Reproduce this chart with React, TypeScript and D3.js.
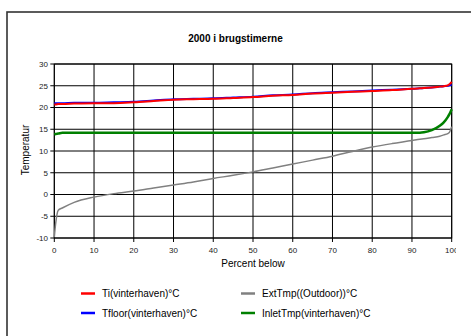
import React from "react";
import * as d3 from "d3";

const percent = [0, 0.3, 1, 2, 5, 10, 15, 20, 25, 30, 35, 40, 45, 50, 55, 60, 65, 70, 75, 80, 85, 90, 92, 93, 95, 97, 98, 99, 99.5, 100];
const tiValues = [20.7, 20.7, 20.8, 20.8, 20.9, 21.0, 21.0, 21.2, 21.5, 21.8, 21.9, 22.0, 22.2, 22.4, 22.7, 22.9, 23.2, 23.4, 23.6, 23.8, 24.0, 24.3, 24.4, 24.5, 24.6, 24.8, 24.9, 25.1, 25.4, 25.9];
const tfloorValues = [21.0, 21.0, 21.0, 21.0, 21.1, 21.1, 21.2, 21.3, 21.6, 21.9, 22.0, 22.1, 22.3, 22.5, 22.8, 23.0, 23.3, 23.5, 23.7, 23.9, 24.1, 24.3, 24.4, 24.5, 24.6, 24.8, 24.9, 25.0, 25.1, 25.2];
const extValues = [-9.8, -7.0, -3.6, -3.1, -1.8, -0.6, 0.2, 0.8, 1.5, 2.2, 2.9, 3.7, 4.4, 5.2, 6.1, 7.0, 7.9, 8.8, 9.9, 10.9, 11.7, 12.4, 12.7, 12.8, 13.1, 13.4, 13.7, 14.0, 14.4, 15.6];
const inletValues = [13.8, 13.9, 14.0, 14.2, 14.2, 14.2, 14.2, 14.2, 14.2, 14.2, 14.2, 14.2, 14.2, 14.2, 14.2, 14.2, 14.2, 14.2, 14.2, 14.2, 14.2, 14.2, 14.2, 14.3, 14.8, 15.8, 16.6, 17.8, 18.6, 19.6];

const xTicks = [0, 10, 20, 30, 40, 50, 60, 70, 80, 90, 100];
const yTicks = [-10, -5, 0, 5, 10, 15, 20, 25, 30];

const series = [
  { name: "Ti(vinterhaven)°C", values: tiValues, color: "#ff0000", width: 2 },
  { name: "Tfloor(vinterhaven)°C", values: tfloorValues, color: "#0000ff", width: 2 },
  { name: "ExtTmp((Outdoor))°C", values: extValues, color: "#808080", width: 1.5 },
  { name: "InletTmp(vinterhaven)°C", values: inletValues, color: "#008000", width: 2.5 },
];
const drawOrder = [2, 3, 1, 0];
const legendLayout = [
  { idx: 0, col: 0, row: 0 },
  { idx: 2, col: 1, row: 0 },
  { idx: 1, col: 0, row: 1 },
  { idx: 3, col: 1, row: 1 },
];

const W = 471;
const H = 336;
const font = "'Liberation Sans', Arial, sans-serif";

export default function App() {
  const x = d3.scaleLinear().domain([0, 100]).range([54.3, 451.7]);
  const y = d3.scaleLinear().domain([-10, 30]).range([238, 64]);
  const line = (vals: number[]) =>
    d3
      .line<number>()
      .x((_, i) => x(percent[i]))
      .y((d) => y(d))
      .curve(d3.curveMonotoneX)(vals) as string;

  return (
    <svg
      width={W}
      height={H}
      style={{ position: "absolute", left: 0, top: 0, background: "#fff" }}
      fontFamily={font}
    >
      <defs>
        <clipPath id="clipR">
          <rect x={0} y={0} width={456} height={H} />
        </clipPath>
      </defs>
      <rect x={0} y={0} width={W} height={H} fill="#fff" />
      <rect x={7} y={12} width={W + 20} height={H + 20} fill="none" stroke="#333" strokeWidth={1.6} />
      <text x={235.5} y={42} textAnchor="middle" fontSize={10} fontWeight="bold" fill="#000">
        2000 i brugstimerne
      </text>
      {yTicks.map((t) => (
        <g key={"y" + t}>
          <line x1={x(0)} x2={x(100)} y1={y(t)} y2={y(t)} stroke="#000" strokeWidth={1} />
          <line x1={x(0) - 4} x2={x(0)} y1={y(t)} y2={y(t)} stroke="#000" strokeWidth={1} />
          <text x={48} y={y(t) + 2.8} textAnchor="end" fontSize={8} fill="#222">
            {t}
          </text>
        </g>
      ))}
      {xTicks.map((t) => (
        <g key={"x" + t}>
          <line x1={x(t)} x2={x(t)} y1={y(30)} y2={y(-10) + 4} stroke="#000" strokeWidth={1} />
          <text x={x(t)} y={252.5} textAnchor="middle" fontSize={8} fill="#222" clipPath="url(#clipR)">
            {t}
          </text>
        </g>
      ))}
      <rect x={x(0)} y={y(30)} width={x(100) - x(0)} height={y(-10) - y(30)} fill="none" stroke="#000" strokeWidth={1} />
      {drawOrder.map((i) => (
        <path key={series[i].name} d={line(series[i].values)} fill="none" stroke={series[i].color} strokeWidth={series[i].width} />
      ))}
      <text x={253} y={267} textAnchor="middle" fontSize={10} fill="#000">
        Percent below
      </text>
      <text transform="translate(29,150) rotate(-90)" textAnchor="middle" fontSize={10} fill="#000">
        Temperatur
      </text>
      {legendLayout.map(({ idx, col, row }) => {
        const lx = col === 0 ? 81 : 241;
        const ly = row === 0 ? 293.5 : 313;
        const s = series[idx];
        return (
          <g key={"lg" + idx}>
            <line x1={lx} x2={lx + 14} y1={ly} y2={ly} stroke={s.color} strokeWidth={2.5} />
            <text x={lx + 21} y={ly + 3.5} fontSize={10} fill="#000">
              {s.name}
            </text>
          </g>
        );
      })}
    </svg>
  );
}
